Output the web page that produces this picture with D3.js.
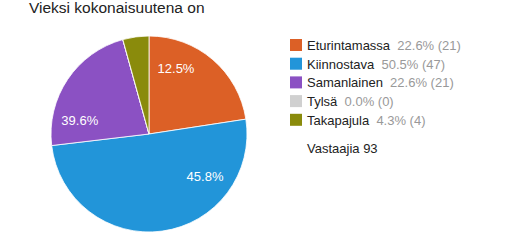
<!DOCTYPE html>
<html>
<head>
<meta charset="utf-8">
<script src="https://cdnjs.cloudflare.com/ajax/libs/d3/7.8.5/d3.min.js"></script>
<style>
  body { margin: 0; background: #fff; }
  svg text { font-family: Arial, "Liberation Sans", sans-serif; }
</style>
</head>
<body>
<svg id="chart" width="525" height="241"></svg>
<script>
var categories = ["Eturintamassa", "Kiinnostava", "Samanlainen", "Tylsä", "Takapajula"];
var counts     = [21, 47, 21, 0, 4];
var percents   = ["22.6%", "50.5%", "22.6%", "0.0%", "4.3%"];
var colors     = ["#dc6026", "#2295d9", "#8b51c3", "#d0d0d0", "#8a8b0c"];
// labels printed on the slices (as shown in the picture, they don't match the legend)
var sliceLabelValues = [12.5, 45.8, 39.6, 0, 2.1];
var sliceLabels      = ["12.5%", "45.8%", "39.6%", "", ""];
var total = 93;

var svg = d3.select("#chart");
var cx = 149, cy = 134, radius = 98;

svg.append("text").attr("x", 29).attr("y", 13)
   .style("font-size", "15.5px").style("fill", "#222")
   .text("Vieksi kokonaisuutena on");

var pie = d3.pie().sort(null).value(function(d) { return d; });
var arc = d3.arc().innerRadius(0).outerRadius(radius);
var labelArc = d3.arc().innerRadius(radius * 0.72).outerRadius(radius * 0.72);
var arcs = pie(counts);
var labelArcs = pie(sliceLabelValues);

var g = svg.append("g").attr("transform", "translate(" + cx + "," + cy + ")");
g.selectAll("path").data(arcs).enter().append("path")
  .attr("d", arc)
  .style("fill", function(d, i) { return colors[i]; })
  .style("stroke", "#fff").style("stroke-width", 0.8);

g.selectAll("text.lab").data(labelArcs).enter().append("text")
  .attr("class", "lab")
  .attr("transform", function(d) { return "translate(" + labelArc.centroid(d) + ")"; })
  .attr("dy", "0.35em")
  .attr("text-anchor", "middle")
  .style("font-size", "13px").style("fill", "#fff")
  .text(function(d, i) { return sliceLabels[i]; });

// legend
var leg = svg.append("g").attr("transform", "translate(290,45)");
var rows = leg.selectAll("g").data(categories).enter().append("g")
  .attr("transform", function(d, i) { return "translate(0," + (i * 18.7) + ")"; });
rows.append("rect").attr("x", 0).attr("y", -6).attr("width", 12).attr("height", 12)
  .style("fill", function(d, i) { return colors[i]; });
var t = rows.append("text").attr("x", 17).attr("y", 5).style("font-size", "13px");
t.append("tspan").style("fill", "#222").text(function(d) { return d; });
t.append("tspan").style("fill", "#999")
  .text(function(d, i) { return "  " + percents[i] + " (" + counts[i] + ")"; })
  .attr("xml:space", "preserve");

svg.append("text").attr("x", 307).attr("y", 153)
   .style("font-size", "13px").style("fill", "#222")
   .text("Vastaajia " + total);
</script>
</body>
</html>
